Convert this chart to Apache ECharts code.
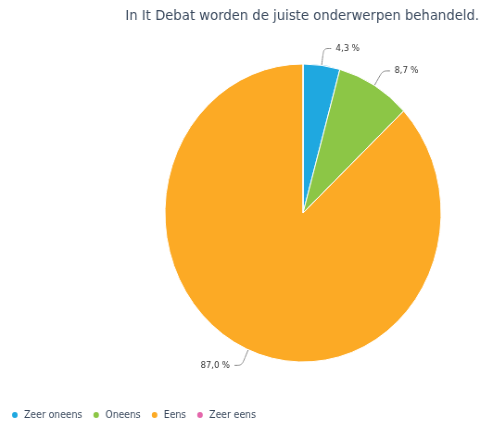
<!DOCTYPE html>
<html>
<head>
<meta charset="utf-8">
<script src="https://cdn.jsdelivr.net/npm/echarts@6/dist/echarts.min.js"></script>
<style>
html,body{margin:0;padding:0;background:#fff;overflow:hidden;}
#wrap{width:480px;height:426px;overflow:hidden;}
#chart{width:518px;height:426px;transform:scaleX(0.9266);transform-origin:0 0;}
</style>
</head>
<body>
<div id="wrap"><div id="chart"></div></div>
<script>
const titleText = 'In It Debat worden de juiste onderwerpen behandeld.';
const categories = ['Zeer oneens', 'Oneens', 'Eens', 'Zeer eens'];
const values = [4.3, 8.7, 87.0, 0];
const colors = ['#1fa8e0', '#8cc646', '#fcaa25', '#e467ab'];

const chart = echarts.init(document.getElementById('chart'), null, {renderer: 'canvas'});
const font = 'DejaVu Sans';
chart.setOption({
  animation: false,
  color: colors,
  title: {
    text: titleText,
    right: -4,
    top: 4,
    textStyle: {fontFamily: font, fontSize: 14.25, fontWeight: 'normal', color: '#3b4a5e'}
  },
  legend: {
    data: categories,
    left: 6,
    bottom: 1,
    icon: 'circle',
    itemWidth: 8,
    itemHeight: 8,
    itemGap: 10,
    textStyle: {fontFamily: font, fontSize: 10, color: '#3b4a5e', padding: [0, 0, 0, 1]}
  },
  series: [{
    type: 'pie',
    center: [327, 213],
    radius: [0, 149],
    startAngle: 90,
    clockwise: true,
    itemStyle: {borderColor: '#fff', borderWidth: 1},
    label: {
      show: true,
      fontFamily: font,
      fontSize: 9,
      color: '#333',
      formatter: p => p.value.toFixed(1).replace('.', ',') + ' %'
    },
    labelLine: {show: true, smooth: 0.3, length: 17, length2: 8, lineStyle: {color: '#888', width: 1}},
    data: categories.map((c, i) => ({
      name: c, value: values[i],
      label: values[i] === 0 ? {show: false} : undefined,
      labelLine: values[i] === 0 ? {show: false} : undefined
    }))
  }]
});
</script>
</body>
</html>
